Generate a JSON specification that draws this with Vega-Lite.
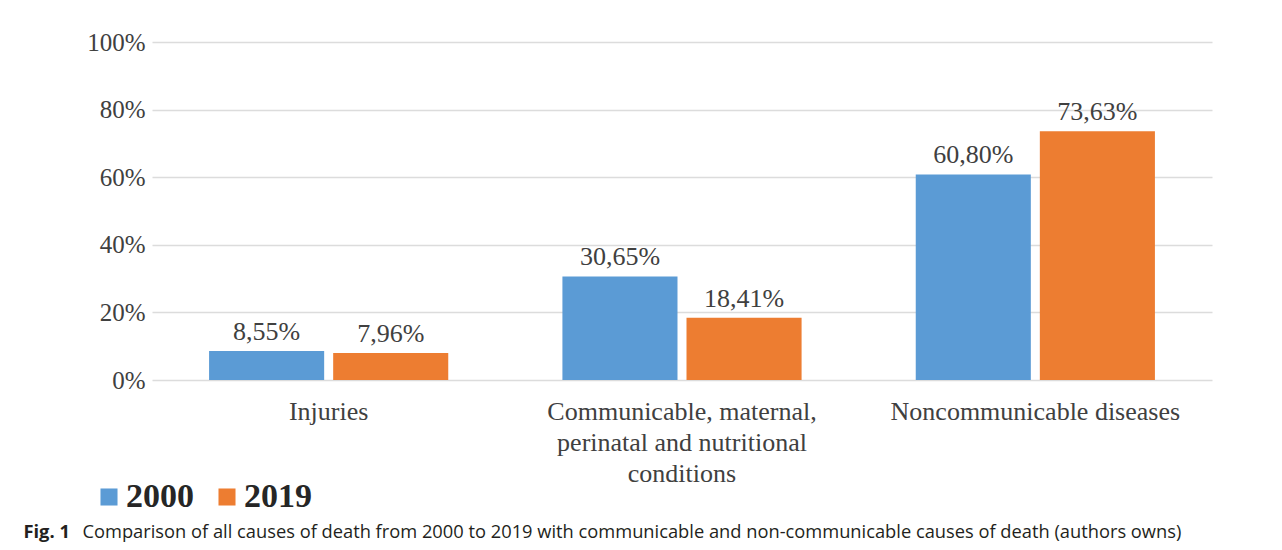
{
  "$schema": "https://vega.github.io/schema/vega-lite/v6.json",
  "width": 1060,
  "height": 338,
  "autosize": {"type": "none"},
  "padding": {"left": 152, "top": 42, "right": 70, "bottom": 170},
  "background": "white",
  "config": {
    "view": {"stroke": null},
    "locale": {"number": {"decimal": ",", "thousands": ".", "grouping": [3], "currency": ["", " €"]}}
  },
  "data": {
    "values": [
      {"cause": "Injuries", "year": "2000", "share": 0.0855},
      {"cause": "Injuries", "year": "2019", "share": 0.0796},
      {"cause": "Communicable, maternal, perinatal and nutritional conditions", "year": "2000", "share": 0.3065},
      {"cause": "Communicable, maternal, perinatal and nutritional conditions", "year": "2019", "share": 0.1841},
      {"cause": "Noncommunicable diseases", "year": "2000", "share": 0.6080},
      {"cause": "Noncommunicable diseases", "year": "2019", "share": 0.7363}
    ]
  },
  "encoding": {
    "x": {
      "field": "cause",
      "type": "nominal",
      "sort": null,
      "scale": {"paddingInner": 0, "paddingOuter": 0},
      "axis": {
        "labelAngle": 0,
        "labelFont": "Liberation Serif",
        "labelFontSize": 26,
        "labelColor": "#404040",
        "labelPadding": 18,
        "labelLineHeight": 31,
        "labelBaseline": "top",
        "labelLimit": 0,
        "labelExpr": "datum.label == 'Communicable, maternal, perinatal and nutritional conditions' ? ['Communicable, maternal,', 'perinatal and nutritional', 'conditions'] : datum.label",
        "ticks": false,
        "domain": false,
        "title": "Comparison of all causes of death from 2000 to 2019 with communicable and non-communicable causes of death (authors owns)",
        "titleFont": "Open Sans",
        "titleFontSize": 18.3,
        "titleFontWeight": "normal",
        "titleColor": "#231f20",
        "titleAnchor": "start",
        "titleAlign": "left",
        "titleBaseline": "alphabetic",
        "titleLimit": 0,
        "titleX": -70,
        "titleY": 157
      }
    },
    "xOffset": {
      "field": "year",
      "type": "nominal",
      "scale": {"paddingInner": 0.0726, "paddingOuter": 0.46}
    },
    "y": {
      "field": "share",
      "type": "quantitative",
      "scale": {"domain": [0, 1]},
      "axis": {
        "values": [0, 0.2, 0.4, 0.6, 0.8, 1],
        "format": ".0%",
        "labelFont": "Liberation Serif",
        "labelFontSize": 25,
        "labelColor": "#404040",
        "labelPadding": 7,
        "ticks": false,
        "domain": false,
        "grid": true,
        "gridColor": "#dcdcdc",
        "gridWidth": 1.5,
        "title": "Fig. 1",
        "titleAngle": 0,
        "titleX": -129,
        "titleY": 495,
        "titleAlign": "left",
        "titleBaseline": "alphabetic",
        "titleFont": "Open Sans",
        "titleFontSize": 18.3,
        "titleFontWeight": "bold",
        "titleColor": "#231f20"
      }
    }
  },
  "layer": [
    {
      "mark": {"type": "bar"},
      "encoding": {
        "color": {
          "field": "year",
          "type": "nominal",
          "scale": {"domain": ["2000", "2019"], "range": ["#5b9bd5", "#ed7d31"]},
          "legend": {
            "orient": "none",
            "legendX": -60,
            "legendY": 438,
            "direction": "horizontal",
            "title": null,
            "symbolType": "square",
            "symbolSize": 290,
            "symbolStrokeWidth": 0,
            "labelFont": "Liberation Serif",
            "labelFontSize": 34,
            "labelFontWeight": "bold",
            "labelColor": "#262626",
            "labelOffset": 0,
            "columnPadding": 16
          }
        }
      }
    },
    {
      "mark": {"type": "text", "baseline": "alphabetic", "dy": -11, "font": "Liberation Serif", "fontSize": 26, "color": "#404040"},
      "encoding": {
        "text": {"field": "share", "type": "quantitative", "format": ".2%"}
      }
    }
  ]
}
